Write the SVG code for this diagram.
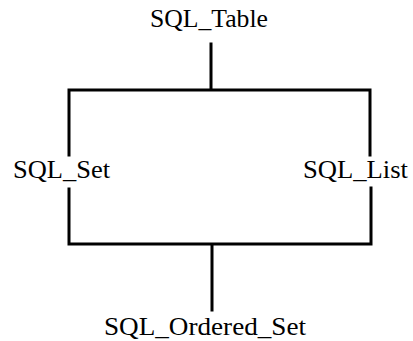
<svg xmlns="http://www.w3.org/2000/svg" width="413" height="341" viewBox="0 0 413 341">
  <style>
    .lbl { font-family: 'Liberation Serif', 'DejaVu Serif', 'Times New Roman', serif; font-size: 25px; fill: #000; text-anchor: middle; }
    .ln { stroke: #000; stroke-width: 3; fill: none; stroke-linecap: square; }
  </style>
  <rect width="413" height="341" fill="#fff"/>
  <g id="connectors">
    <path class="ln" d="M211,44 V90 M69,155 V90 H370 V155"/>
    <path class="ln" d="M69,189 V244 H371 V188 M212,244 V310"/>
  </g>
  <g id="sql_table"><text class="lbl" x="209" y="27" textLength="118" lengthAdjust="spacingAndGlyphs">SQL_Table</text></g>
  <g id="sql_set"><text class="lbl" x="61.5" y="178" textLength="97" lengthAdjust="spacingAndGlyphs">SQL_Set</text></g>
  <g id="sql_list"><text class="lbl" x="355.5" y="178" textLength="105" lengthAdjust="spacingAndGlyphs">SQL_List</text></g>
  <g id="sql_ordered_set"><text class="lbl" x="205" y="335" textLength="202" lengthAdjust="spacingAndGlyphs">SQL_Ordered_Set</text></g>
</svg>
